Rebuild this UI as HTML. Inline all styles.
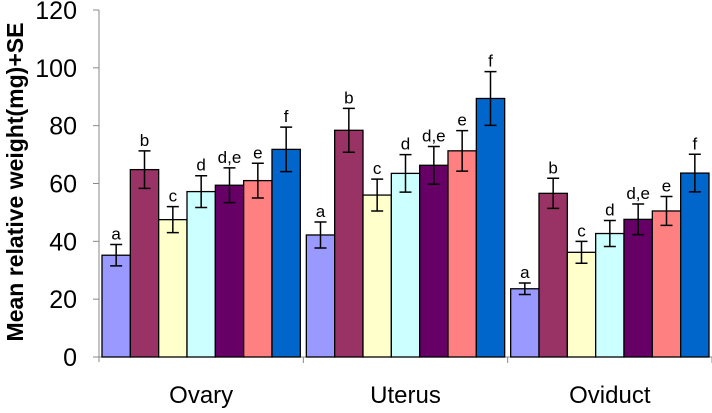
<!DOCTYPE html>
<html><head><meta charset="utf-8"><style>
body{margin:0;background:#fff;width:712px;height:408px;overflow:hidden;font-family:"Liberation Sans",Arial,sans-serif}
</style></head><body>
<svg id="chart" width="712" height="408" xmlns="http://www.w3.org/2000/svg">
<text transform="translate(23,182) rotate(-90)" text-anchor="middle" font-size="23" font-weight="bold" fill="#000">Mean relative weight(mg)+SE</text>
<g id="axes"></g>
<g id="bars"></g>
</svg>
<script>
const categories=["Ovary","Uterus","Oviduct"];
const groupLetters=["a","b","c","d","d,e","e","f"];
const colors=["#9999ff","#993366","#ffffcc","#ccffff","#660066","#ff8080","#0066cc"];
const ovaryValues=[35.2,64.8,47.5,57.2,59.4,61,71.8];
const ovaryErrors=[3.7,6.5,4.5,5.5,6,6,7.7];
const uterusValues=[42.2,78.4,56,63.5,66.3,71.3,89.4];
const uterusErrors=[4.5,7.6,5.5,6.5,6.5,7,9.3];
const oviductValues=[23.6,56.6,36.2,42.7,47.6,50.5,63.6];
const oviductErrors=[2,5.2,3.8,4.5,5.3,5,6.5];
const yTicks=[0,20,40,60,80,100,120];
const values=[ovaryValues,uterusValues,oviductValues];
const errors=[ovaryErrors,uterusErrors,oviductErrors];
const NS="http://www.w3.org/2000/svg";
const x0=99,x1=712,y0=357,yTop=10,yMax=120;
const catW=(x1-x0)/categories.length;
const y=v=>y0-(v/yMax)*(y0-yTop);
function mk(tag,attrs,parent){const e=document.createElementNS(NS,tag);for(const k in attrs)e.setAttribute(k,attrs[k]);parent.appendChild(e);return e;}
const axes=document.getElementById('axes'),bars=document.getElementById('bars');
let ax=mk('line',{x1:x0,y1:yTop,x2:x0,y2:y0+5,stroke:'#888','stroke-width':1},axes);


let bx=mk('line',{x1:x0,y1:y0,x2:x1,y2:y0,stroke:'#888','stroke-width':1},axes);


yTicks.forEach(t=>{
 let tk=mk('line',{x1:x0-6,y1:y(t),x2:x0,y2:y(t),stroke:'#888'},axes);
 
 
 let tl=mk('text',{x:77,y:y(t)+9,'text-anchor':'end','font-size':25,fill:'#000'},axes);
 tl.textContent=t;
 
 
});
categories.forEach((c,ci)=>{
 const cx=x0+ci*catW;
 let tk=mk('line',{x1:cx+catW,y1:y0,x2:cx+catW,y2:y0+6,stroke:'#888'},axes);
 
 
 let cl=mk('text',{x:cx+catW/2,y:403,'text-anchor':'middle','font-size':24,fill:'#000'},axes);
 cl.textContent=c;
 
 
 const bw=(catW-6)/7;
 values[ci].forEach((v,i)=>{
  const bxp=cx+3+i*bw;
  let r=mk('rect',{x:bxp,y:y(v),width:bw,height:y0-y(v),fill:colors[i],stroke:'#000','stroke-width':1.3},bars);
  
  
  const mx=bxp+bw/2,e=errors[ci][i];
  let eb=mk('path',{d:`M${mx},${y(v+e)}V${y(v-e)}M${mx-6},${y(v+e)}H${mx+6}M${mx-6},${y(v-e)}H${mx+6}`,stroke:'#000','stroke-width':1.5,fill:'none'},bars);
  
  
  let lt=mk('text',{x:mx,y:y(v+e)-5,'text-anchor':'middle','font-size':17,fill:'#000'},bars);
  lt.textContent=groupLetters[i];
  
  
 });
});
</script>
</body></html>
